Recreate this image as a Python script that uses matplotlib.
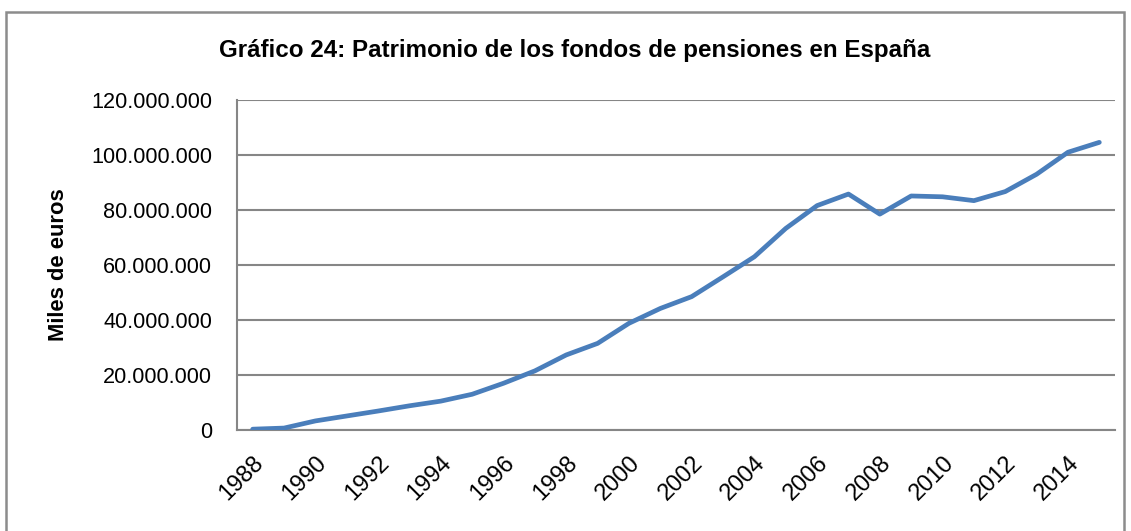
import matplotlib.pyplot as plt
from matplotlib.patches import Rectangle
from matplotlib.ticker import FuncFormatter

# Patrimonio (miles de euros)
years = list(range(1988, 2016))
patrimonio = [0.3e6, 0.7e6, 3.3e6, 5.1e6, 6.9e6, 8.8e6, 10.5e6, 13.0e6,
              17.0e6, 21.5e6, 27.3e6, 31.5e6, 38.8e6, 44.2e6, 48.5e6, 55.7e6,
              63.0e6, 73.3e6, 81.6e6, 85.8e6, 78.5e6, 85.1e6, 84.8e6, 83.4e6,
              86.7e6, 93.0e6, 101.0e6, 104.6e6]
yticks = [0, 20e6, 40e6, 60e6, 80e6, 100e6, 120e6]

plt.rcParams['font.family'] = ['Liberation Sans', 'DejaVu Sans']

fig = plt.figure(figsize=(11.31, 5.31), dpi=100)
ax = fig.add_axes([237 / 1131, 1 - 430 / 531, 878 / 1131, 330 / 531])

# marco exterior
fig.patches.append(Rectangle((6 / 1131, -0.01), 1118 / 1131, 1 - 12 / 531 + 0.01,
                             transform=fig.transFigure, fill=False,
                             edgecolor='#8c8c8c', linewidth=1.8))

x = list(range(len(years)))
ax.plot(x, patrimonio, color='#4a7ebb', linewidth=3.4, solid_capstyle='round', zorder=3)

ax.set_xlim(-0.5, len(years) - 0.5)
ax.set_ylim(0, 120e6)
ax.set_yticks(yticks)
ax.yaxis.set_major_formatter(FuncFormatter(lambda v, p: f'{int(v):,}'.replace(',', '.')))
ax.set_xticks(x[::2])
ax.set_xticklabels([str(y) for y in years[::2]], rotation=45, ha='right',
                   rotation_mode='anchor')
ax.tick_params(axis='both', length=0, colors='black')
ax.tick_params(axis='y', pad=18, labelsize=15.6)
ax.tick_params(axis='x', pad=16, labelsize=17)

ax.grid(axis='y', color='#868686', linewidth=1.5)
ax.set_axisbelow(True)
for s in ['top', 'right']:
    ax.spines[s].set_visible(False)
for s in ['left', 'bottom']:
    ax.spines[s].set_color('#868686')
    ax.spines[s].set_linewidth(1.5)

ax.set_ylabel('Miles de euros', fontsize=15.8, fontweight='bold')
ax.yaxis.set_label_coords(-168 / 878, 0.5)
fig.text(575 / 1131, 1 - 51 / 531, 'Gráfico 24: Patrimonio de los fondos de pensiones en España',
         ha='center', va='center', fontsize=17.4, fontweight='bold')

plt.savefig('out.png', dpi=100)
